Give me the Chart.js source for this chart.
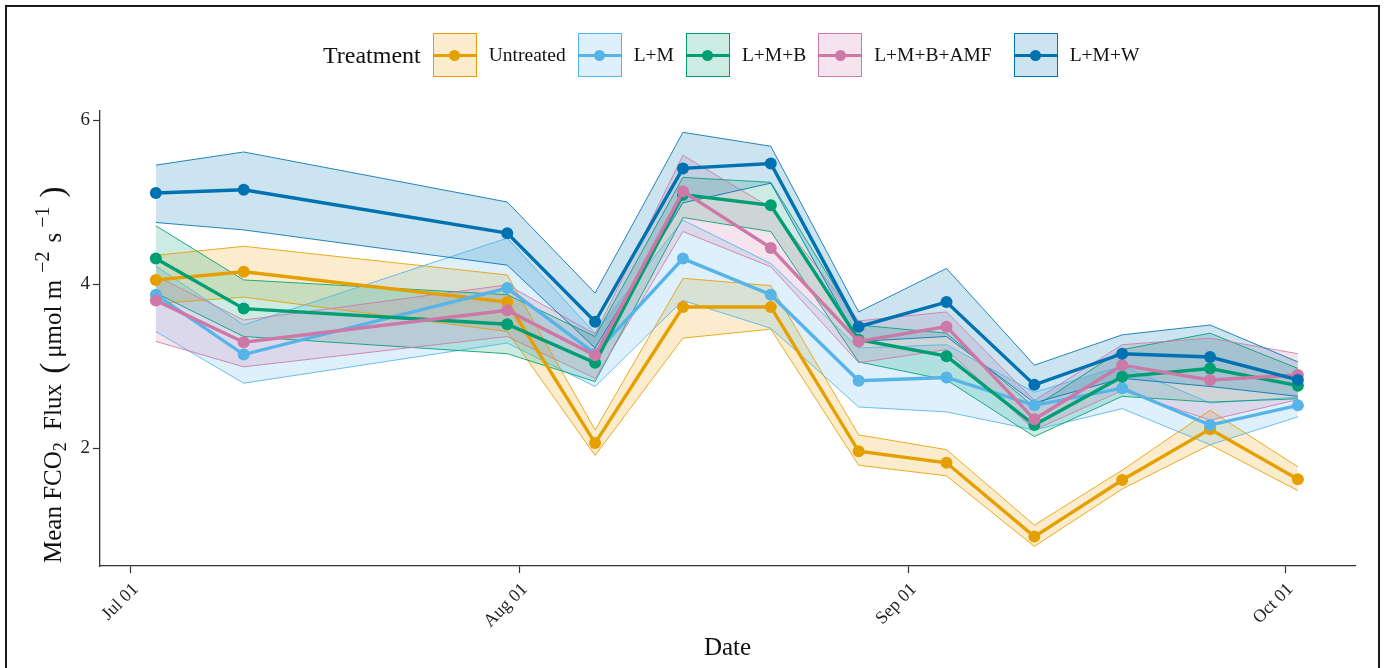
<!DOCTYPE html>
<html><head><meta charset="utf-8">
<script src="https://cdn.jsdelivr.net/npm/chart.js@4.4.1/dist/chart.umd.min.js"></script>
<style>
html,body{margin:0;padding:0;background:#fff;overflow:hidden;}
#wrap{position:relative;width:1384px;height:668px;}
#frame{position:absolute;left:5px;top:5px;width:1375px;height:720px;border:2px solid #1a1a1a;box-sizing:border-box;pointer-events:none;}
#legend{position:absolute;top:33px;left:323px;height:44px;display:flex;align-items:center;font-family:"Liberation Serif",serif;color:#111;}
#legend .ttl{font-size:24px;margin-right:12px;}
.item{display:flex;align-items:center;margin-right:12px;}
.key{position:relative;width:44px;height:44px;box-sizing:border-box;border:1px solid;margin-right:12px;}
.key .ln{position:absolute;left:0;right:0;top:50%;height:3px;margin-top:-1.5px;}
.key .dot{position:absolute;left:50%;top:50%;width:11px;height:11px;margin:-5.5px 0 0 -5.5px;border-radius:50%;}
.item span{font-size:19.5px;}
.item.wide{margin-right:22px;}
</style></head>
<body>
<div id="wrap">
<canvas id="c" width="1384" height="668"></canvas>
<div id="legend"></div>
<div id="frame"></div>
</div>
<script>
// ---- data ----
const sampleDates = ['07-03','07-10','07-31','08-07','08-14','08-21','08-28','09-04','09-11','09-18','09-25','10-02'];
const monthTickDates = ['07-01','08-01','09-01','10-01'];
const monthTickLabels = ['Jul 01','Aug 01','Sep 01','Oct 01'];
const yTickValues = [2, 4, 6];
const treatmentNames = ['Untreated','L+M','L+M+B','L+M+B+AMF','L+M+W'];
const legendTitle = 'Treatment';
const xTitle = 'Date';

const untreatedMean  = [4.05, 4.15, 3.78, 2.06, 3.72, 3.72, 1.96, 1.82, 0.92, 1.61, 2.23, 1.62];
const untreatedUpper = [4.35, 4.46, 4.11, 2.22, 4.07, 3.98, 2.16, 1.98, 1.06, 1.73, 2.46, 1.77];
const untreatedLower = [3.76, 3.84, 3.42, 1.91, 3.34, 3.45, 1.79, 1.66, 0.80, 1.50, 2.04, 1.48];

const lmMean  = [3.87, 3.14, 3.95, 3.15, 4.31, 3.87, 2.82, 2.86, 2.52, 2.73, 2.28, 2.52];
const lmUpper = [4.22, 3.50, 4.56, 3.40, 4.78, 4.25, 3.22, 3.26, 2.68, 3.00, 2.55, 2.62];
const lmLower = [3.42, 2.79, 3.28, 2.75, 3.80, 3.46, 2.50, 2.44, 2.22, 2.48, 2.04, 2.38];

const lmbMean  = [4.31, 3.70, 3.51, 3.04, 5.09, 4.96, 3.32, 3.12, 2.28, 2.87, 2.97, 2.76];
const lmbUpper = [4.71, 4.05, 3.87, 3.36, 5.30, 5.24, 3.50, 3.40, 2.50, 3.20, 3.40, 2.97];
const lmbLower = [3.89, 3.36, 3.15, 2.81, 4.81, 4.64, 3.05, 2.83, 2.14, 2.63, 2.56, 2.60];

const lmbamfMean  = [3.80, 3.29, 3.68, 3.13, 5.13, 4.44, 3.30, 3.48, 2.35, 3.01, 2.83, 2.89];
const lmbamfUpper = [4.10, 3.56, 3.99, 3.39, 5.57, 4.93, 3.55, 3.66, 2.58, 3.26, 3.34, 3.15];
const lmbamfLower = [3.30, 2.99, 3.36, 2.85, 4.64, 4.21, 3.04, 3.20, 2.22, 2.70, 2.34, 2.59];

const lmwMean  = [5.11, 5.15, 4.62, 3.54, 5.41, 5.47, 3.48, 3.78, 2.77, 3.15, 3.11, 2.83];
const lmwUpper = [5.45, 5.61, 5.00, 3.89, 5.85, 5.68, 3.66, 4.19, 3.01, 3.38, 3.50, 3.05];
const lmwLower = [4.75, 4.66, 4.23, 3.22, 4.99, 5.23, 3.30, 3.36, 2.55, 2.85, 2.75, 2.63];

// ---- styles ----
const treatmentColors = ['#E69F00', '#56B4E9', '#009E73', '#CC79A7', '#0072B2'];
const FONT = '"Liberation Serif", "Times New Roman", serif';

function rgba(hex, a) {
  const n = parseInt(hex.slice(1), 16);
  return `rgba(${(n >> 16) & 255},${(n >> 8) & 255},${n & 255},${a})`;
}
function dayOf(md) {
  const [m, d] = md.split('-').map(Number);
  return (Date.UTC(2000, m - 1, d) - Date.UTC(2000, 6, 1)) / 86400000;
}
const days = sampleDates.map(dayOf);
const tickDays = monthTickDates.map(dayOf);
const toPts = arr => arr.map((v, i) => ({x: days[i], y: v}));

const series = [
  {name: treatmentNames[0], mean: untreatedMean, lo: untreatedLower, hi: untreatedUpper, color: treatmentColors[0]},
  {name: treatmentNames[1], mean: lmMean, lo: lmLower, hi: lmUpper, color: treatmentColors[1]},
  {name: treatmentNames[2], mean: lmbMean, lo: lmbLower, hi: lmbUpper, color: treatmentColors[2]},
  {name: treatmentNames[3], mean: lmbamfMean, lo: lmbamfLower, hi: lmbamfUpper, color: treatmentColors[3]},
  {name: treatmentNames[4], mean: lmwMean, lo: lmwLower, hi: lmwUpper, color: treatmentColors[4]},
];

const datasets = [];
// Chart.js draws dataset 0 on top: put L+M+W mean first
[...series].reverse().forEach(s => {
  datasets.push({
    label: s.name, data: toPts(s.mean), borderColor: s.color, backgroundColor: s.color,
    borderWidth: 3.4, pointRadius: 6, pointHoverRadius: 6, pointBackgroundColor: s.color,
    pointBorderWidth: 0, fill: false, tension: 0
  });
});
[...series].reverse().forEach(s => {
  const loIdx = datasets.length;
  datasets.push({
    label: s.name + ' lower', data: toPts(s.lo), borderColor: rgba(s.color, 0.85),
    borderWidth: 1, pointRadius: 0, fill: false, tension: 0
  });
  datasets.push({
    label: s.name + ' upper', data: toPts(s.hi), borderColor: rgba(s.color, 0.85),
    backgroundColor: rgba(s.color, 0.2), borderWidth: 1, pointRadius: 0, fill: loIdx, tension: 0
  });
});

// y-axis title with sub/superscripts: [text, kind, gapAfter]  kind 0 normal, 1 sub, 2 sup, 3 big paren
const yTitleParts = [
  ['Mean FCO', 0, 0], ['2', 1, 6], [' Flux ', 0, 4], ['(', 3, 5], ['\u03bcmol m', 0, 7],
  ['\u22122', 2, 9], ['s', 0, 5], ['\u22121', 2, 9], [')', 3, 0]
];
const yTitlePlugin = {
  id: 'yTitle',
  afterDraw(chart) {
    const ctx = chart.ctx;
    ctx.save();
    ctx.translate(53, 563);
    ctx.rotate(-Math.PI / 2);
    ctx.fillStyle = '#111';
    ctx.textBaseline = 'alphabetic';
    let x = 0;
    for (const [t, k, gap] of yTitleParts) {
      const size = k === 1 ? 18 : k === 2 ? 20 : k === 3 ? 33 : 25;
      ctx.font = size + 'px ' + FONT;
      const dy = k === 1 ? 5 : (k === 2 ? -12 : (k === 3 ? 2 : 0));
      ctx.fillText(t, x, 8 + dy);
      x += ctx.measureText(t).width + gap;
    }
    ctx.restore();
  }
};

new Chart(document.getElementById('c'), {
  type: 'line',
  data: {datasets},
  plugins: [yTitlePlugin],
  options: {
    responsive: false, animation: false, events: [],
    layout: {padding: {left: 0, top: 111, right: 29, bottom: 0}},
    plugins: {
      legend: {display: false}, tooltip: {enabled: false},
      filler: {propagate: false, drawTime: 'beforeDatasetsDraw'}
    },
    scales: {
      x: {
        type: 'linear', min: -2.45, max: 97.55,
        afterFit: s => { s.height = 102; },
        afterBuildTicks: s => { s.ticks = tickDays.map(v => ({value: v})); },
        ticks: {
          autoSkip: false, maxRotation: 45, minRotation: 45, padding: 6, labelOffset: 5,
          color: '#222', font: {family: FONT, size: 18},
          callback: v => monthTickLabels[tickDays.indexOf(v)]
        },
        grid: {drawOnChartArea: false, drawTicks: true, tickLength: 7, tickColor: '#333', tickWidth: 1.2},
        border: {display: true, color: '#333', width: 1.3},
        title: {display: true, text: xTitle, color: '#111', font: {family: FONT, size: 25}, padding: {top: 0, bottom: 5}}
      },
      y: {
        type: 'linear', min: 0.561, max: 6.11,
        afterFit: s => { s.width = 100; },
        afterBuildTicks: s => { s.ticks = yTickValues.map(v => ({value: v})); },
        ticks: {color: '#222', font: {family: FONT, size: 19}, padding: 3, callback: v => String(v)},
        grid: {drawOnChartArea: false, drawTicks: true, tickLength: 7, tickColor: '#333', tickWidth: 1.2},
        border: {display: true, color: '#333', width: 1.3}
      }
    }
  }
});

// legend (HTML, real text)
const legend = document.getElementById('legend');
const t = document.createElement('div'); t.className = 'ttl'; t.textContent = legendTitle; legend.appendChild(t);
series.forEach((s, i) => {
  const it = document.createElement('div'); it.className = 'item' + (i === 3 ? ' wide' : '');
  const key = document.createElement('div'); key.className = 'key';
  key.style.borderColor = s.color; key.style.background = rgba(s.color, 0.2);
  const ln = document.createElement('div'); ln.className = 'ln'; ln.style.background = s.color;
  const dot = document.createElement('div'); dot.className = 'dot'; dot.style.background = s.color;
  key.appendChild(ln); key.appendChild(dot);
  const lab = document.createElement('span'); lab.textContent = s.name;
  it.appendChild(key); it.appendChild(lab); legend.appendChild(it);
});
</script>
</body></html>
